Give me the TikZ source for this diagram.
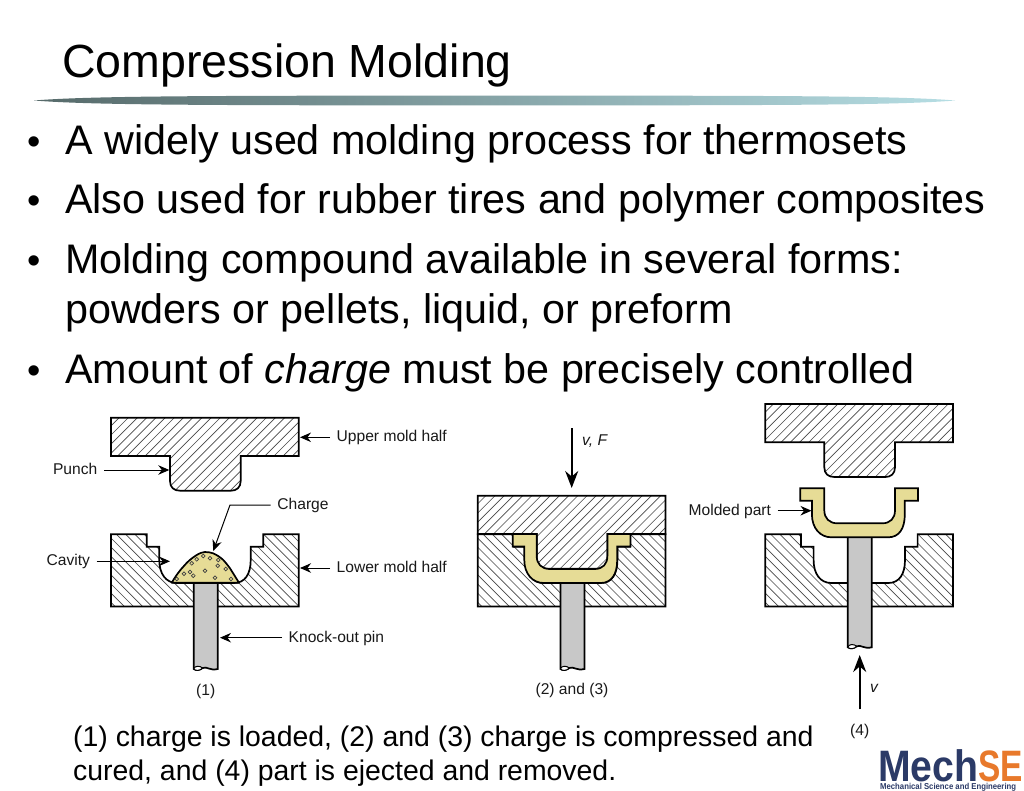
\documentclass[tikz,border=0pt]{standalone}
\usepackage{fontspec}
\setmainfont{Liberation Sans}
\usetikzlibrary{arrows.meta}
\definecolor{navy}{HTML}{2B3A67}
\definecolor{orng}{HTML}{E8792B}
\definecolor{chg}{HTML}{E6DC96}
\definecolor{pingray}{HTML}{C8C8C8}
\definecolor{barL}{HTML}{566A6A}
\definecolor{barR}{HTML}{B6DEE4}
\newcommand\upperpath{(111,417.7) -- (298.7,417.7) -- (298.7,456) -- (240.7,456) -- (240.7,481) .. controls (240.7,487.5) and (236.5,490.7) .. (231,490.7) -- (180,490.7) .. controls (174,490.7) and (170,487.5) .. (170,481) -- (170,456) -- (111,456) -- cycle}
\newcommand\lowerpath{(111,534.3) -- (146.7,534.3) -- (146.7,546.7) -- (159.3,546.7) -- (159.3,560) .. controls (159.3,574) and (166,583) .. (177,583) -- (234,583) .. controls (245,583) and (250.7,574) .. (250.7,560) -- (250.7,546.7) -- (263.3,546.7) -- (263.3,534.3) -- (298.7,534.3) -- (298.7,606.4) -- (111,606.4) -- cycle}
\newcommand\partpath{(146,534) -- (170,534) -- (170,556) .. controls (170,564) and (175,569) .. (183,569) -- (228,569) .. controls (236,569) and (240.7,564) .. (240.7,556) -- (240.7,534) -- (263.7,534) -- (263.7,546.5) -- (250.5,546.5) -- (250.5,560) .. controls (250.5,574) and (245,583) .. (234,583) -- (177,583) .. controls (166,583) and (157.6,574) .. (157.6,560) -- (157.6,546.5) -- (146,546.5) -- cycle}
\newcommand\upmold{\begin{scope}\clip \upperpath;
 \foreach \s in {0,9.2,...,400} {\draw[hatchline] (\s,500) -- (\s+110,390);}
 \end{scope}\draw[outl] \upperpath;}
\newcommand\lowmold{\begin{scope}\clip \lowerpath;
 \foreach \s in {-40,-30.8,...,320} {\draw[hatchline] (\s,525) -- (\s+90,615);}
 \end{scope}\draw[outl] \lowerpath;}
% pin: left x, top y, bottom y
\newcommand\pinshape[3]{\draw[outl,fill=pingray] (#1,#2) -- (#1,#3) .. controls (#1+3,#3+2) and (#1+6,#3+1) .. (#1+9,#3-1) .. controls (#1+13,#3-3) and (#1+16,#3+2) .. (#1+24,#3) -- (#1+24,#2) -- cycle;
 \draw[line width=1pt,fill=white] (#1,#3) .. controls (#1+1,#3-3.5) and (#1+6,#3-3.5) .. (#1+9,#3-1) .. controls (#1+6,#3+2) and (#1+2,#3+2) .. (#1,#3);}
\tikzset{
 x=1pt,y=-1pt,
 hatchline/.style={line width=0.65pt,black!72},
 outl/.style={line width=1.7pt,black,line join=miter},
 lbl/.style={font=\fontsize{15.6}{18}\selectfont,inner xsep=6.5pt,inner ysep=0pt,text height=12pt,text depth=3pt,text=black!90},
 cap1/.style={font=\fontsize{15.6}{18}\selectfont,inner sep=0pt,anchor=base,text=black!90},
 lead/.style={line width=1pt,-{Stealth[length=11pt,width=9.5pt]}},
 bigarrow/.style={line width=2pt,-{Stealth[length=17pt,width=13pt]}},
 body/.style={font=\fontsize{41.3}{46}\selectfont,anchor=base west,inner sep=0pt},
 bul/.style={font=\fontsize{38}{42}\selectfont,anchor=base,inner sep=0pt},
 capt/.style={font=\fontsize{28.4}{32}\selectfont,anchor=base west,inner sep=0pt},
}
\begin{document}
\begin{tikzpicture}
\useasboundingbox (0,0) rectangle (1024,791);
\fill[white] (0,0) rectangle (1024,791);
% title
\node[font=\fontsize{46.5}{50}\selectfont,anchor=base west,inner sep=0pt] (title) at (62,78) {Compression Molding};
\shade[left color=barL,right color=barR] (34,100.5) .. controls (90,96) and (200,95.6) .. (494,95.6) .. controls (790,95.6) and (900,96) .. (955,100.5) .. controls (900,105) and (790,105.4) .. (494,105.4) .. controls (200,105.4) and (90,105) .. (34,100.5) -- cycle;
% bullets
\foreach \yy/\nm in {155/a,214/b,273/c,383/d} {\node[bul] (b\nm) at (34,\yy) {•};}
\node[body] (t1) at (65,155) {A widely used molding process for thermosets};
\node[body] (t2) at (65,214) {Also used for rubber tires and polymer composites};
\node[body] (t3) at (65,273) {Molding compound available in several forms:};
\node[body] (t4) at (65,323) {powders or pellets, liquid, or preform};
\node[body] (t5) at (65,383) {Amount of \emph{charge} must be precisely controlled};
% figure 1
\upmold
\lowmold
\pinshape{193.7}{583}{669}
\draw[outl,line join=round,fill=chg] (171.7,582.7) .. controls (175,577) and (180,570) .. (183.3,566.7) .. controls (188,561) and (192,558) .. (196.7,555) .. controls (200,553) and (203,552) .. (205,552) .. controls (208,552) and (211,552.5) .. (213,553.3) .. controls (217,555) and (220,557) .. (223.3,560) .. controls (226,563) and (228,565.5) .. (230,568.3) .. controls (233,573) and (236,578) .. (239,582.7) -- cycle;
\foreach \px/\py in {176.7/579,184/573.7,191.7/563.3,196.7/559.3,203.3/556,210/558.3,218.3/560,217.7/565.7,225.7/569,205/570.7,193.3/575.7,215/577.7,231/579,190/572} {\draw[line width=0.7pt,black!75,fill=chg] (\px,\py) circle (1.9);}
\coordinate (upT) at (300,437.3);
\node[lbl,anchor=west] (upL) at (330,437.3) {Upper mold half};
\draw[lead] (upL.west) -- (upT);
\coordinate (puT) at (169.3,470);
\node[lbl,anchor=east] (puL) at (104,470) {Punch};
\draw[lead] (puL.east) -- (puT);
\coordinate (chT) at (213.3,551);
\coordinate (chB) at (230,505);
\node[lbl,anchor=west] (chL) at (270.7,505) {Charge};
\draw[lead] (chL.west) -- (chB) -- (chT);
\coordinate (caT) at (170,561.3);
\node[lbl,anchor=east] (caL) at (96.7,561.3) {Cavity};
\draw[lead] (caL.east) -- (caT);
\coordinate (loT) at (300,568);
\node[lbl,anchor=west] (loL) at (330,568) {Lower mold half};
\draw[lead] (loL.west) -- (loT);
\coordinate (knT) at (220,637.7);
\node[lbl,anchor=west] (knL) at (282,637.7) {Knock-out pin};
\draw[lead] (knL.west) -- (knT);
\node[cap1] (c1) at (205.7,695) {(1)};
% figure 2
\begin{scope}[shift={(366.7,0)}]
 \lowmold
 \pinshape{193.7}{583}{669}
\end{scope}
\begin{scope}[shift={(366.7,78)}]
 \upmold
\end{scope}
\begin{scope}[shift={(366.7,0)}]
 \draw[outl,fill=chg] \partpath;
\end{scope}
\coordinate (vfS) at (571.7,428.3);
\coordinate (vfT) at (571.7,488);
\draw[bigarrow] (vfS) -- (vfT);
\node[cap1,anchor=base west,font=\fontsize{15.6}{18}\selectfont\itshape] (vfL) at (582,445) {v, F};
\node[cap1] (c2) at (572,694) {(2) and (3)};
% figure 3
\begin{scope}[shift={(654.3,-13.7)}]
 \upmold
\end{scope}
\begin{scope}[shift={(654.3,0)}]
 \lowmold
 \pinshape{193.5}{535}{647.3}
\end{scope}
\begin{scope}[shift={(654.3,-45.7)}]
 \draw[outl,fill=chg] \partpath;
\end{scope}
\coordinate (moT) at (811.5,510.7);
\node[lbl,anchor=east] (moL) at (777.7,510.7) {Molded part};
\draw[lead] (moL.east) -- (moT);
\coordinate (vS) at (859.7,709.3);
\coordinate (vT) at (859.7,655);
\draw[bigarrow] (vS) -- (vT);
\node[cap1,anchor=base west,font=\fontsize{15.6}{18}\selectfont\itshape] (vL) at (870,692) {v};
\node[cap1] (c4) at (859.7,735) {(4)};
% caption
\node[capt] (k1) at (73,746) {(1) charge is loaded, (2) and (3) charge is compressed and};
\node[capt] (k2) at (73,780) {cured, and (4) part is ejected and removed.};
% logo
\node[anchor=base west,inner sep=0pt,text=navy,font=\fontsize{44}{44}\selectfont\bfseries,xscale=0.89] (mech) at (878,781.7) {Mech};
\node[anchor=base west,inner sep=0pt,text=orng,font=\fontsize{44}{44}\selectfont\bfseries,xscale=0.76] (se) at (978,781.7) {SE};
\node[anchor=base west,inner sep=0pt,text=navy,font=\fontsize{8.6}{9}\selectfont\bfseries,xscale=0.9] (sub) at (880,789.6) {Mechanical Science and Engineering};
\end{tikzpicture}
\end{document}
